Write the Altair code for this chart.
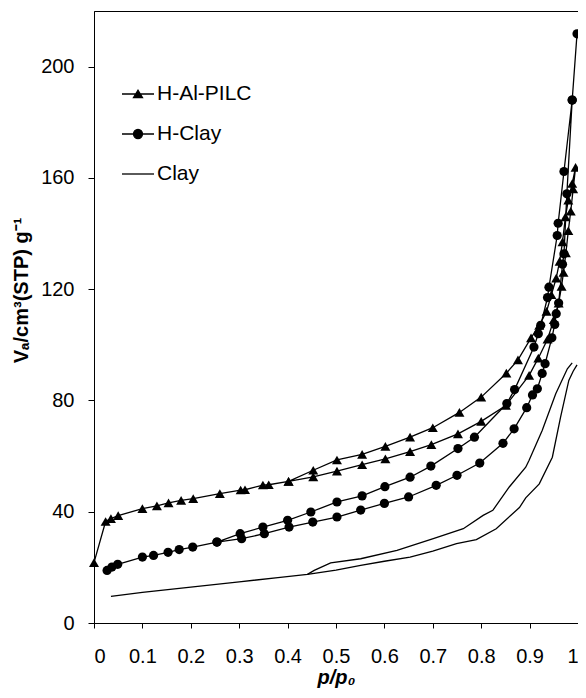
import altair as alt
import pandas as pd

# ---------------- data ----------------
series_names = ["H-Al-PILC", "H-Clay", "Clay"]

pilc_ads_x = [0.0, 0.024, 0.035, 0.050, 0.100, 0.130, 0.154, 0.180, 0.205, 0.260, 0.303, 0.312, 0.349, 0.361,
              0.402, 0.453, 0.502, 0.554, 0.602, 0.653, 0.697, 0.752, 0.800, 0.851, 0.899, 0.918, 0.937, 0.950,
              0.960, 0.966, 0.970, 0.975, 0.980, 0.985, 0.990, 0.995]
pilc_ads_y = [21.7, 36.5, 37.5, 38.6, 41.1, 42.1, 43.2, 44.1, 44.7, 46.5, 47.8, 47.9, 49.6, 49.7,
              50.9, 52.5, 54.6, 56.9, 59.0, 61.6, 64.1, 68.0, 72.5, 78.2, 89.0, 95.2, 102.0, 109.0,
              115.0, 121.0, 126.0, 133.0, 141.0, 148.0, 156.0, 163.8]
pilc_des_x = [0.988, 0.980, 0.974, 0.968, 0.962, 0.955, 0.945, 0.935, 0.920, 0.903, 0.876, 0.852, 0.800,
              0.755, 0.700, 0.653, 0.602, 0.554, 0.502, 0.453, 0.402]
pilc_des_y = [158.0, 152.0, 146.0, 137.0, 130.0, 124.0, 118.0, 112.0, 107.0, 102.5, 94.6, 89.8, 81.2,
              75.7, 70.2, 66.8, 63.5, 60.6, 58.6, 54.9, 50.9]

hclay_ads_x = [0.027, 0.037, 0.049, 0.100, 0.123, 0.153, 0.176, 0.204, 0.254, 0.305, 0.352, 0.403, 0.452,
               0.502, 0.551, 0.600, 0.650, 0.707, 0.750, 0.797, 0.845, 0.868, 0.894, 0.906, 0.916, 0.926,
               0.932, 0.946, 0.952, 0.955, 0.960, 0.968, 0.971, 0.977, 0.988, 0.998]
hclay_ads_y = [18.9, 20.1, 21.1, 23.7, 24.3, 25.4, 26.4, 27.3, 29.1, 30.3, 32.1, 34.5, 36.3,
               38.1, 40.6, 43.0, 45.3, 49.5, 53.1, 57.5, 64.6, 69.8, 77.4, 82.0, 84.2, 89.7,
               93.2, 102.5, 107.3, 111.2, 115.0, 129.0, 132.7, 154.3, 188.0, 211.8]
hclay_des_x = [0.988, 0.971, 0.959, 0.957, 0.940, 0.937, 0.923, 0.918, 0.909, 0.869, 0.853, 0.786, 0.752,
               0.696, 0.653, 0.601, 0.554, 0.502, 0.448, 0.400, 0.349, 0.302, 0.254]
hclay_des_y = [188.0, 162.3, 143.7, 139.3, 120.7, 117.0, 107.0, 104.0, 99.2, 83.9, 78.9, 66.8, 62.7,
               56.4, 52.4, 49.0, 45.7, 43.5, 39.9, 36.9, 34.5, 32.1, 29.1]

clay_ads_x = [0.035, 0.100, 0.200, 0.300, 0.380, 0.441, 0.500, 0.551, 0.600, 0.653, 0.700, 0.749, 0.790,
              0.831, 0.879, 0.892, 0.920, 0.947, 0.964, 0.981, 0.990, 0.998]
clay_ads_y = [9.6, 11.0, 12.9, 14.8, 16.3, 17.5, 19.0, 20.7, 22.2, 23.7, 25.8, 28.5, 30.0,
              33.9, 41.5, 45.0, 50.0, 59.6, 74.0, 87.2, 90.5, 92.8]
clay_des_x = [0.988, 0.978, 0.954, 0.926, 0.899, 0.892, 0.858, 0.824, 0.804, 0.763, 0.701, 0.626, 0.551,
              0.489, 0.455, 0.441]
clay_des_y = [93.5, 91.4, 82.4, 69.2, 58.5, 56.0, 48.9, 40.5, 38.7, 33.9, 30.3, 26.1, 23.1,
              21.6, 18.9, 17.5]

x_ticks = [0, 0.1, 0.2, 0.3, 0.4, 0.5, 0.6, 0.7, 0.8, 0.9, 1]
y_ticks = [0, 40, 80, 120, 160, 200]

# ---------------- build table ----------------
rows = []


def add(series, path, xs, ys, start=0):
    for i, (x, y) in enumerate(zip(xs, ys)):
        rows.append(dict(series=series, path=path, seq=start + i, x=x, y=y))


add("H-Al-PILC", "pilc", pilc_ads_x, pilc_ads_y)
add("H-Al-PILC", "pilc", pilc_des_x, pilc_des_y, start=len(pilc_ads_x))
add("H-Clay", "hclay", hclay_ads_x, hclay_ads_y)
add("H-Clay", "hclay", hclay_des_x, hclay_des_y, start=len(hclay_ads_x))
add("Clay", "clay_ads", clay_ads_x, clay_ads_y)
add("Clay", "clay_des", clay_des_x, clay_des_y)
df = pd.DataFrame(rows)

FONT = "Liberation Sans"

xenc = alt.X("x:Q", scale=alt.Scale(domain=[0, 1], nice=False),
             axis=alt.Axis(values=x_ticks, format="~g", title="p/p₀", tickSize=5, labelPadding=18,
                           titleFontStyle="italic", titleFontWeight="bold", titleFontSize=20,
                           titleY=60, titleBaseline="alphabetic"))
yenc = alt.Y("y:Q", scale=alt.Scale(domain=[0, 220], nice=False),
             axis=alt.Axis(values=y_ticks, title="Vₐ/cm³(STP) g⁻¹", tickSize=6, labelPadding=14,
                           titleFontWeight="bold", titleFontSize=20, titleAngle=270,
                           titleX=-73, titleY=279, titleAlign="center", titleBaseline="middle"))

base = alt.Chart(df)

lines = base.mark_line(color="black", strokeWidth=1.3).encode(
    x=xenc, y=yenc, detail="path:N", order="seq:Q")

tri = base.transform_filter(alt.datum.series == "H-Al-PILC").mark_point(
    shape="triangle-up", filled=True, color="black", size=100, opacity=1).encode(x="x:Q", y="y:Q")
circ = base.transform_filter(alt.datum.series == "H-Clay").mark_point(
    shape="circle", filled=True, color="black", size=85, opacity=1).encode(x="x:Q", y="y:Q")

legend_paths = [
    "M-1,0L1,0M-0.28,0.22L0,-0.24L0.28,0.22Z",
    "M-1,0L1,0M0.28,0A0.28,0.28 0 1,1 -0.28,0A0.28,0.28 0 1,1 0.28,0Z",
    "M-1,0L1,0",
]
leg_props = dict(title=None, orient="none", legendX=27, legendY=66,
                 symbolSize=1024, symbolOpacity=1, symbolFillColor="black",
                 symbolStrokeWidth=1.3,
                 labelFontSize=21, labelFont=FONT, labelColor="black",
                 labelOffset=2, rowPadding=13, padding=0)
leg = base.mark_point(filled=True, fill="black", strokeWidth=1.3, opacity=0).encode(
    x="x:Q", y="y:Q",
    shape=alt.Shape("series:N", scale=alt.Scale(domain=series_names, range=legend_paths),
                    legend=alt.Legend(**leg_props)),
    stroke=alt.Stroke("series:N", scale=alt.Scale(domain=series_names, range=["black", "black", "black"]),
                      legend=alt.Legend(**leg_props)))

chart = alt.layer(lines, tri, circ, leg).properties(
    width=484, height=612,
    background="white",
    autosize=alt.AutoSizeParams(type="none"),
    padding={"left": 86, "top": 3, "right": 0, "bottom": 66},
).configure_view(stroke="black", strokeWidth=1).configure_axis(
    grid=False, domainColor="black", tickColor="black", labelColor="black", titleColor="black",
    labelFont=FONT, titleFont=FONT, labelFontSize=20, domainWidth=1, tickWidth=1
)

chart.save("out.html", embed_options={"renderer": "svg", "actions": False})
